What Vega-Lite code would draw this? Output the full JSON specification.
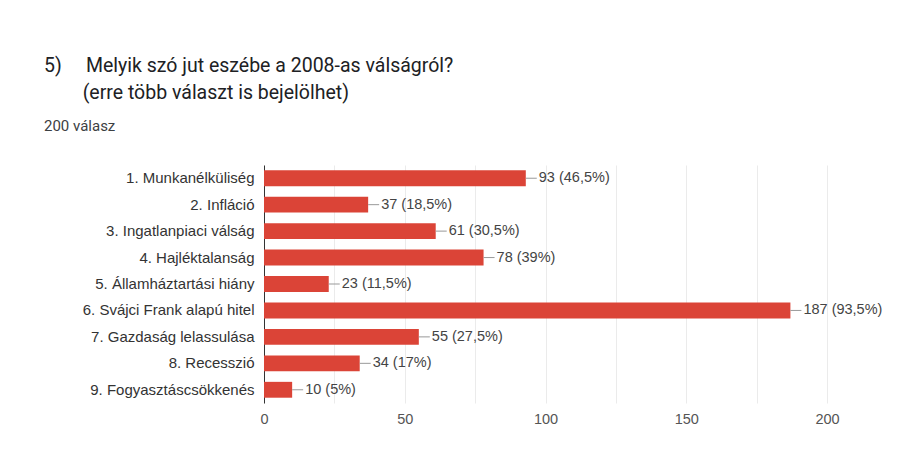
{
  "$schema": "https://vega.github.io/schema/vega-lite/v6.json",
  "autosize": {"type": "none"},
  "padding": {"left": 264, "top": 165, "right": 74, "bottom": 64},
  "width": 563,
  "height": 238,
  "background": "white",
  "title": {
    "text": ["5)\u00a0\u00a0\u00a0\u00a0\u00a0Melyik szó jut eszébe a 2008-as válságról?", "\u200b\u00a0\u00a0\u00a0\u00a0\u00a0\u00a0\u00a0\u00a0(erre több választ is bejelölhet)"],
    "subtitle": "200 válasz",
    "anchor": "start",
    "frame": "group",
    "dx": -220,
    "font": "Roboto",
    "fontSize": 19.5,
    "fontWeight": "normal",
    "color": "#202124",
    "lineHeight": 27,
    "subtitleFont": "Roboto",
    "subtitleFontSize": 15,
    "subtitleColor": "#3c4043",
    "subtitlePadding": 16,
    "offset": 30
  },
  "data": {
    "values": [
      {"item": "1. Munkanélküliség", "count": 93, "label": "93 (46,5%)"},
      {"item": "2. Infláció", "count": 37, "label": "37 (18,5%)"},
      {"item": "3. Ingatlanpiaci válság", "count": 61, "label": "61 (30,5%)"},
      {"item": "4. Hajléktalanság", "count": 78, "label": "78 (39%)"},
      {"item": "5. Államháztartási hiány", "count": 23, "label": "23 (11,5%)"},
      {"item": "6. Svájci Frank alapú hitel", "count": 187, "label": "187 (93,5%)"},
      {"item": "7. Gazdaság lelassulása", "count": 55, "label": "55 (27,5%)"},
      {"item": "8. Recesszió", "count": 34, "label": "34 (17%)"},
      {"item": "9. Fogyasztáscsökkenés", "count": 10, "label": "10 (5%)"}
    ]
  },
  "config": {"view": {"stroke": null}, "font": "Liberation Sans"},
  "encoding": {
    "y": {
      "field": "item",
      "type": "nominal",
      "sort": null,
      "scale": {"paddingInner": 0.4, "paddingOuter": 0.2},
      "axis": {
        "title": null,
        "domain": true,
        "domainColor": "#333333",
        "ticks": false,
        "grid": false,
        "labelPadding": 10,
        "labelFontSize": 15,
        "labelColor": "#333333",
        "labelFont": "Liberation Sans",
        "labelLimit": 300
      }
    }
  },
  "layer": [
    {
      "mark": {"type": "bar", "color": "#db4437"},
      "encoding": {
        "x": {
          "field": "count",
          "type": "quantitative",
          "scale": {"domain": [0, 200], "nice": false},
          "axis": {
            "title": null,
            "values": [0, 25, 50, 75, 100, 125, 150, 175, 200],
            "labelExpr": "datum.value % 50 === 0 ? datum.label : ''",
            "labelFlush": false,
            "labelOverlap": false,
            "domain": false,
            "ticks": false,
            "grid": true,
            "gridColor": "#ebebeb",
            "labelColor": "#555555",
            "labelFontSize": 14.5,
            "labelPadding": 9,
            "labelFont": "Liberation Sans"
          }
        }
      }
    },
    {
      "mark": {"type": "rule", "color": "#999999", "x2Offset": 11},
      "encoding": {
        "x": {"field": "count", "type": "quantitative"},
        "x2": {"field": "count"}
      }
    },
    {
      "mark": {"type": "text", "align": "left", "dx": 13, "fontSize": 14.5, "color": "#444444", "font": "Liberation Sans"},
      "encoding": {
        "x": {"field": "count", "type": "quantitative"},
        "text": {"field": "label"}
      }
    }
  ]
}
